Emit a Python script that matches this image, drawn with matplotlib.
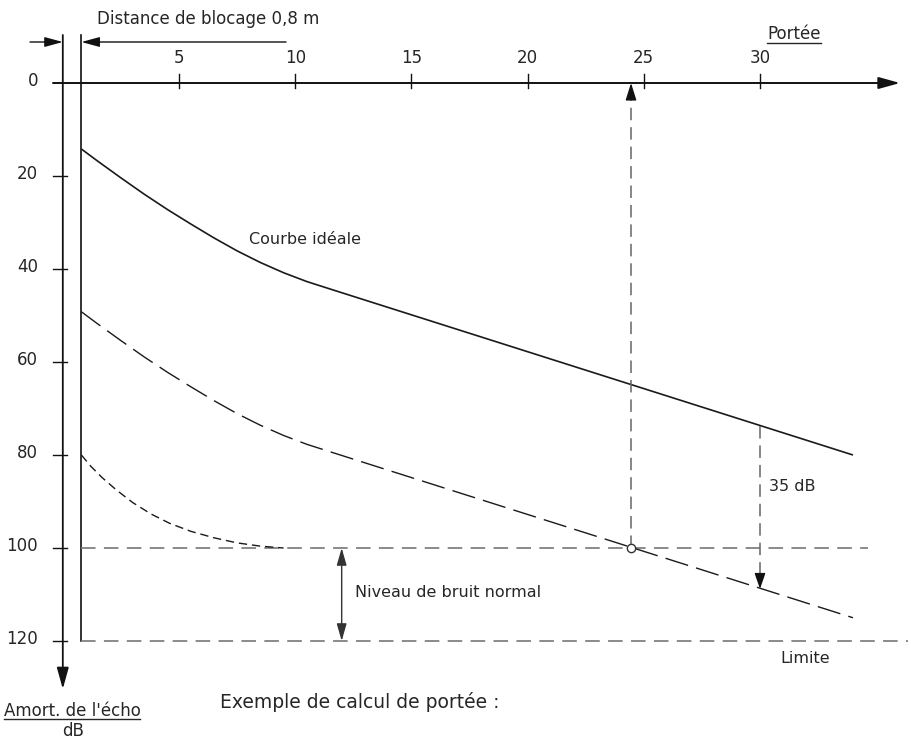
import matplotlib
matplotlib.use("Agg")
import matplotlib.pyplot as plt

plt.rcParams['font.family'] = ['DejaVu Sans']
plt.rcParams['lines.scale_dashes'] = False

# ---------------- data ----------------
x_ticks = [5, 10, 15, 20, 25, 30]
y_ticks = [0, 20, 40, 60, 80, 100, 120]
blocking_distance = 0.8

ideal_range = [0.8, 1.5, 2.5, 3.5, 4.5, 5.5, 6.5, 7.5, 8.5, 9.5, 10.5, 11.5, 34.0]
ideal_db = [14.2, 16.8, 20.4, 23.9, 27.2, 30.3, 33.3, 36.1, 38.6, 40.8, 42.7, 44.3, 80.0]

echo_range = [0.8, 1.5, 2.5, 3.5, 4.5, 5.5, 6.5, 7.5, 8.5, 9.5, 10.5, 11.5, 34.0]
echo_db = [49.2, 51.8, 55.4, 58.9, 62.2, 65.3, 68.3, 71.1, 73.6, 75.8, 77.7, 79.3, 115.0]

near_range = [0.8, 1.2, 1.7, 2.3, 3.0, 3.8, 4.6, 5.5, 6.5, 7.5, 8.5, 9.5]
near_db = [80.0, 82.4, 84.9, 87.5, 90.2, 92.7, 94.7, 96.4, 97.8, 98.9, 99.6, 100.0]

noise_level = 100
limit_level = 120
example_range = 24.45
margin_range = 30.0
margin_top = 73.7
margin_bottom = 108.8

# ---------------- layout (pixel <-> data) ----------------
W, H = 912, 740
X0, SX = 62.8, 23.24
Y0, SY = 83.0, 4.65


def dx(p):
    return (p - X0) / SX


def dy(p):
    return (p - Y0) / SY


fig = plt.figure(figsize=(W / 100, H / 100), dpi=100)
ax = fig.add_axes([0, 0, 1, 1])
ax.set_xlim(dx(0), dx(W))
ax.set_ylim(dy(H), dy(0))
ax.axis('off')

TXT = '#262626'
AX = '#111111'
GRAY = '#666666'


def head(tip, tail, color, hl, hw, lw=1.0):
    ax.annotate('', xy=tip, xytext=tail,
                arrowprops=dict(arrowstyle=f'-|>,head_length={hl},head_width={hw}',
                                color=color, lw=lw, shrinkA=0, shrinkB=0,
                                mutation_scale=10))


# axes
head((dx(900), 0), (dx(53), 0), AX, 1.3, 0.36, lw=1.4)
head((0, dy(689)), (0, dy(35)), AX, 1.3, 0.36, lw=1.3)
ax.plot([blocking_distance, blocking_distance], [dy(35), limit_level], color=AX, lw=1.2)

# ticks
for t in x_ticks:
    ax.plot([t, t], [dy(74), dy(88)], color=AX, lw=1.0)
    ax.text(t, dy(63), str(t), ha='center', va='baseline', fontsize=12, color=TXT)
for t in y_ticks:
    if t > 0:
        ax.plot([dx(53), dx(67)], [t, t], color=AX, lw=1.0)
    ax.text(dx(38), t - 0.4, str(t), ha='right', va='center', fontsize=12, color=TXT)

# blocking distance arrows
head((0, dy(42)), (dx(30), dy(42)), AX, 1.1, 0.3, lw=1.0)
head((blocking_distance, dy(42)), (dx(286), dy(42)), AX, 1.1, 0.3, lw=1.0)
ax.text(dx(97), dy(24), 'Distance de blocage 0,8 m', ha='left', va='baseline',
        fontsize=12, color=TXT)

# horizontal reference lines
ax.plot([blocking_distance, dx(868)], [noise_level, noise_level], color='#777777',
        lw=1.2, dashes=(10.5, 6))
ax.plot([blocking_distance, dx(908)], [limit_level, limit_level], color='#777777',
        lw=1.2, dashes=(10.5, 6))

# curves
ax.plot(ideal_range, ideal_db, color='#1a1a1a', lw=1.2, solid_capstyle='butt')
ax.plot(echo_range, echo_db, color='#1a1a1a', lw=1.0, dashes=(17, 6))
ax.plot(near_range, near_db, color='#1a1a1a', lw=1.0, dashes=(6, 3.5))

# example vertical arrow (range read-off)
ax.plot([example_range, example_range], [noise_level, dy(98)], color=GRAY, lw=1.1,
        dashes=(9, 5))
head((example_range, 0), (example_range, dy(98)), '#111111', 1.05, 0.33, lw=1.0)
ax.plot([example_range], [noise_level], marker='o', ms=6, mfc='white', mec='#333333',
        mew=1.0, zorder=5)

# 35 dB arrow
ax.plot([margin_range, margin_range], [margin_top, dy(577)], color=GRAY, lw=1.1,
        dashes=(9, 5))
head((margin_range, margin_bottom), (margin_range, dy(577)), '#111111', 0.95, 0.33, lw=1.0)
ax.text(dx(769), dy(491), '35 dB', ha='left', va='baseline', fontsize=11.5, color=TXT)

# noise band double arrow
ax.annotate('', xy=(12.0, noise_level), xytext=(12.0, limit_level),
            arrowprops=dict(arrowstyle='<|-|>,head_length=1.05,head_width=0.3',
                            color='#333333', lw=1.0, shrinkA=0, shrinkB=0,
                            mutation_scale=10))

# labels
ax.text(dx(249), dy(244), 'Courbe idéale', ha='left', va='baseline', fontsize=11.5, color=TXT)
ax.text(dx(355), dy(597), 'Niveau de bruit normal', ha='left', va='baseline',
        fontsize=11.5, color=TXT)
ax.text(dx(780), dy(663), 'Limite', ha='left', va='baseline', fontsize=11.5, color=TXT)

t_portee = ax.text(dx(794), dy(39), 'Portée', ha='center', va='baseline', fontsize=12,
                   color=TXT)
t_amort = ax.text(dx(72), dy(716), "Amort. de l'écho", ha='center', va='baseline',
                  fontsize=12, color=TXT)
ax.text(dx(73), dy(736), 'dB', ha='center', va='baseline', fontsize=12, color=TXT)
ax.text(dx(220), dy(708), 'Exemple de calcul de portée :', ha='left', va='baseline',
        fontsize=13.5, color=TXT)

# underlines matched to text width
fig.canvas.draw()
inv = ax.transData.inverted()
for t, ypix in ((t_portee, 43), (t_amort, 719)):
    bb = t.get_window_extent()
    x_a = inv.transform((bb.x0, 0))[0]
    x_b = inv.transform((bb.x1, 0))[0]
    ax.plot([x_a, x_b], [dy(ypix), dy(ypix)], color=TXT, lw=1.0)

fig.savefig('out.png', dpi=100)
